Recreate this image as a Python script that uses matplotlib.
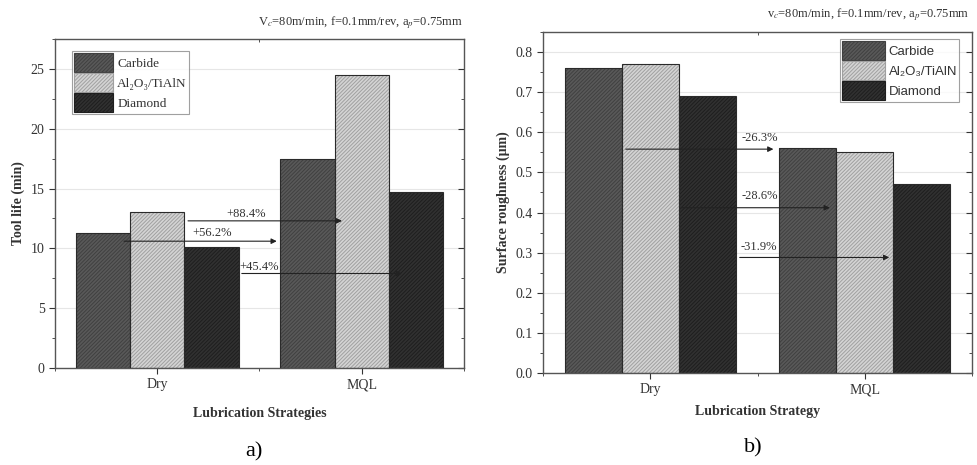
import matplotlib.pyplot as plt
from matplotlib.patches import Patch
from matplotlib.ticker import MultipleLocator
import numpy as np

plt.rcParams['font.family'] = ['Liberation Serif', 'DejaVu Serif']
plt.rcParams['hatch.linewidth'] = 0.7

# data
strategies = ['Dry', 'MQL']
tools = ['Carbide', 'Al\u2082O\u2083/TiAlN', 'Diamond']
tool_life = {'Carbide': [11.25, 17.5], 'Al2O3': [13.0, 24.5], 'Diamond': [10.1, 14.7]}
roughness = {'Carbide': [0.76, 0.56], 'Al2O3': [0.77, 0.55], 'Diamond': [0.69, 0.47]}
life_gain = ['+88.4%', '+56.2%', '+45.4%']
rough_drop = ['-26.3%', '-28.6%', '-31.9%']

face = ['#595959', '#d4d4d4', '#313131']
hatchc = ['#404040', '#a0a0a0', '#1e1e1e']
keys = ['Carbide', 'Al2O3', 'Diamond']
HATCH = '/' * 9

fig = plt.figure(figsize=(9.78, 4.65), dpi=100)
ax1 = fig.add_axes([0.0562, 0.2086, 0.4182, 0.7075])
ax2 = fig.add_axes([0.5552, 0.1978, 0.4387, 0.7334])

x = np.array([1, 2])
w = 0.266


def draw_bars(ax, data):
    for i, k in enumerate(keys):
        xs = x + (i - 1) * w
        ax.bar(xs, data[k], w, color=face[i], edgecolor=hatchc[i], hatch=HATCH, linewidth=0, zorder=2)
        ax.bar(xs, data[k], w, fill=False, edgecolor='#2a2a2a', linewidth=0.8, zorder=3)


def style_axes(ax, major, minor, ymax):
    ax.set_xlim(0.5, 2.5)
    ax.set_ylim(0, ymax)
    ax.set_xticks(x)
    ax.set_xticklabels(strategies, fontsize=10)
    ax.xaxis.set_minor_locator(MultipleLocator(0.5))
    ax.yaxis.set_major_locator(MultipleLocator(major))
    ax.yaxis.set_minor_locator(MultipleLocator(minor))
    ax.tick_params(axis='both', which='major', direction='out', length=4, labelsize=10, colors='#333333')
    ax.tick_params(axis='both', which='minor', direction='out', length=2.5, colors='#333333')
    ax.tick_params(which='both', right=True, top=True)
    ax.grid(axis='y', color='#e6e6e6', linewidth=0.8, zorder=0)
    for s in ax.spines.values():
        s.set_color('#555555')
        s.set_linewidth(1.0)
    # inward ticks on the right and top
    ax.tick_params(which='both', labelright=False, labeltop=False)
    for t in ax.yaxis.get_major_ticks() + ax.yaxis.get_minor_ticks():
        t.tick2line.set_marker(0)
    for t in ax.xaxis.get_major_ticks():
        t.tick2line.set_visible(False)
    for t in ax.xaxis.get_minor_ticks():
        t.tick2line.set_marker(3)


def arrow(ax, x0, x1, y, label, tx, ty):
    ax.annotate('', xy=(x1, y), xytext=(x0, y),
                arrowprops=dict(arrowstyle='-|>', color='#222222', lw=0.8, mutation_scale=8), zorder=5)
    ax.text(tx, ty, label, ha='center', va='center', fontsize=9, color='#333333', zorder=6)


handles = [Patch(facecolor=face[i], edgecolor=hatchc[i], hatch=HATCH, linewidth=0.8, label=tools[i]) for i in range(3)]

# a) tool life
draw_bars(ax1, tool_life)
style_axes(ax1, 5, 2.5, 27.5)
ax1.set_ylabel('Tool life (min)', fontsize=10, fontweight='bold', color='#333333')
ax1.set_xlabel('Lubrication Strategies', fontsize=10, fontweight='bold', color='#333333', labelpad=11)
arrow(ax1, 1.137, 1.917, 12.3, life_gain[0], 1.436, 12.9)
arrow(ax1, 0.824, 1.598, 10.6, life_gain[1], 1.27, 11.3)
arrow(ax1, 1.40, 2.21, 7.9, life_gain[2], 1.5, 8.45)
leg1 = ax1.legend(handles=handles, loc='upper left', bbox_to_anchor=(0.025, 0.985), fontsize=9.5,
                  handlelength=3.0, handleheight=1.9, handletextpad=0.3, labelspacing=0.05,
                  borderpad=0.15, fancybox=False, edgecolor='#888888')
leg1.get_frame().set_linewidth(0.8)
for t in leg1.get_texts():
    t.set_color('#333333')
fig.text(0.473, 0.952, r'V$_c$=80m/min, f=0.1mm/rev, a$_p$=0.75mm', ha='right', va='center',
         fontsize=9, color='#333333', math_fontfamily='stix')

# b) surface roughness
draw_bars(ax2, roughness)
style_axes(ax2, 0.1, 0.05, 0.85)
ax2.yaxis.set_major_formatter(plt.FormatStrFormatter('%.1f'))
ax2.set_ylabel('Surface roughness (\u03bcm)', fontsize=10, fontweight='bold', color='#333333')
ax2.set_xlabel('Lubrication Strategy', fontsize=10, fontweight='bold', color='#333333', labelpad=6)
arrow(ax2, 0.873, 1.587, 0.558, rough_drop[0], 1.51, 0.587)
arrow(ax2, 1.131, 1.85, 0.412, rough_drop[1], 1.51, 0.44)
arrow(ax2, 1.404, 2.127, 0.288, rough_drop[2], 1.507, 0.313)
leg2 = ax2.legend(handles=handles, loc='upper right', bbox_to_anchor=(0.985, 1.0),
                  prop={'family': 'Liberation Sans', 'size': 9.5},
                  handlelength=3.2, handleheight=1.9, handletextpad=0.3, labelspacing=0.05,
                  borderpad=0.15, fancybox=False, edgecolor='#888888')
leg2.get_frame().set_linewidth(0.8)
for t in leg2.get_texts():
    t.set_color('#333333')
fig.text(0.991, 0.968, r'v$_c$=80m/min, f=0.1mm/rev, a$_p$=0.75mm', ha='right', va='center',
         fontsize=9, color='#333333', math_fontfamily='stix')

fig.text(0.26, 0.028, 'a)', ha='center', va='center', fontsize=16)
fig.text(0.77, 0.037, 'b)', ha='center', va='center', fontsize=16)

fig.savefig('out.png', dpi=100)
